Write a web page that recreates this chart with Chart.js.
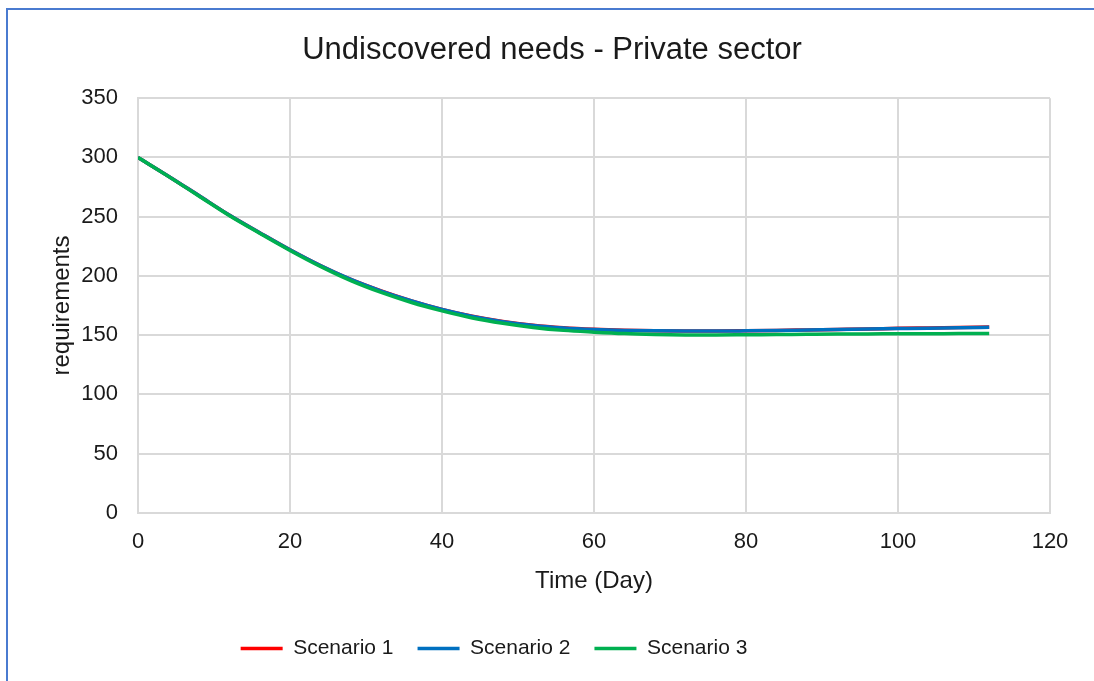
<!DOCTYPE html>
<html>
<head>
<meta charset="utf-8">
<script src="https://cdn.jsdelivr.net/npm/chart.js@4.4.1/dist/chart.umd.min.js"></script>
<style>
    html, body { margin: 0; padding: 0; background: #fff; overflow: hidden; }
    #wrap { position: absolute; left: 0; top: 0; width: 1094px; height: 681px; }
    #frame { position: absolute; left: 6px; top: 8px; width: 1200px; height: 800px; border: 2px solid #4a7bd0; box-sizing: border-box; }
</style>
</head>
<body>
<div id="frame"></div>
<div id="wrap"><canvas id="chart" width="1094" height="681"></canvas></div>
<script>
// Time in days and the three scenario curves
const days = [0, 4, 8, 12, 16, 20, 24, 28, 32, 36, 40, 44, 48, 52, 56, 60, 64, 68, 72, 76, 80, 84, 88, 92, 96, 100, 104, 108, 112];
const scenario1 = [300, 284.2, 267.8, 251.4, 236.5, 222, 208.7, 197, 187.3, 178.9, 171.7, 165.9, 161.5, 158.3, 156.2, 154.9, 154.1, 153.7, 153.5, 153.5, 153.7, 154, 154.4, 154.8, 155.2, 155.7, 156.1, 156.5, 156.9];
const scenario2 = [300, 284.2, 267.8, 251.4, 236.5, 222, 208.7, 197, 187.2, 178.8, 171.6, 165.8, 161.4, 158.2, 156.1, 154.8, 154, 153.6, 153.4, 153.4, 153.6, 153.9, 154.3, 154.7, 155.1, 155.5, 155.9, 156.2, 156.6];
const scenario3 = [300, 284, 267.5, 251, 236, 221.5, 208, 196, 186, 177.5, 170.5, 164.5, 160, 156.5, 154, 152.5, 151.3, 150.6, 150.2, 150.1, 150.3, 150.5, 150.7, 150.9, 151, 151.1, 151.2, 151.3, 151.4];

const seriesNames = ['Scenario 1', 'Scenario 2', 'Scenario 3'];
const seriesColors = ['#FF0000', '#0070C0', '#00B050'];
const seriesValues = [scenario1, scenario2, scenario3];

const chartTitle = 'Undiscovered needs - Private sector';
const xTitle = 'Time (Day)';
const yTitle = 'requirements';

const FONT = "'Liberation Sans', Arial, sans-serif";
const TEXT = '#1a1a1a';
const GRID = '#d9d9d9';

// Excel puts the legend a bit left of the title, nudge it over
const legendShift = {
    id: 'legendShift',
    afterLayout(chart) {
        if (chart.legend) {
            chart.legend.left -= 58;
            chart.legend.right -= 58;
        }
    }
};

const datasets = seriesNames.map((name, i) => ({
    label: name,
    data: days.map((d, j) => ({ x: d, y: seriesValues[i][j] })),
    borderColor: seriesColors[i],
    backgroundColor: seriesColors[i],
    borderWidth: 3.5,
    pointRadius: 0,
    cubicInterpolationMode: 'monotone',
    // later series sit on top, like in Excel
    order: seriesNames.length - i
}));

new Chart(document.getElementById('chart'), {
    type: 'line',
    data: { datasets },
    plugins: [legendShift],
    options: {
        responsive: false,
        animation: false,
        layout: { padding: { left: 54, right: 44, top: 32, bottom: 12 } },
        plugins: {
            title: {
                display: true,
                text: chartTitle,
                color: TEXT,
                font: { family: FONT, size: 31, weight: 'normal' },
                padding: { top: 0, bottom: 29 }
            },
            legend: {
                position: 'bottom',
                labels: {
                    color: TEXT,
                    font: { family: FONT, size: 21 },
                    usePointStyle: true,
                    pointStyle: 'line',
                    pointStyleWidth: 42,
                    padding: 24,
                    sort: (a, b) => a.datasetIndex - b.datasetIndex
                }
            },
            tooltip: { enabled: false }
        },
        scales: {
            x: {
                type: 'linear',
                min: 0,
                max: 120,
                ticks: { stepSize: 20, color: TEXT, font: { family: FONT, size: 22 }, padding: 16 },
                grid: { color: GRID, lineWidth: 2, drawTicks: false },
                border: { color: GRID, width: 2 },
                title: {
                    display: true,
                    text: xTitle,
                    color: TEXT,
                    font: { family: FONT, size: 24 },
                    padding: { top: -4, bottom: 18 }
                }
            },
            y: {
                min: 0,
                max: 350,
                ticks: { stepSize: 50, color: TEXT, font: { family: FONT, size: 22 }, padding: 20 },
                grid: { color: GRID, lineWidth: 2, drawTicks: false },
                border: { color: GRID, width: 2 },
                title: {
                    display: true,
                    text: yTitle,
                    color: TEXT,
                    font: { family: FONT, size: 24 },
                    padding: { top: -6, bottom: 0 }
                },
                afterFit(scale) { scale.width = 84; }
            }
        }
    }
});
</script>
</body>
</html>
